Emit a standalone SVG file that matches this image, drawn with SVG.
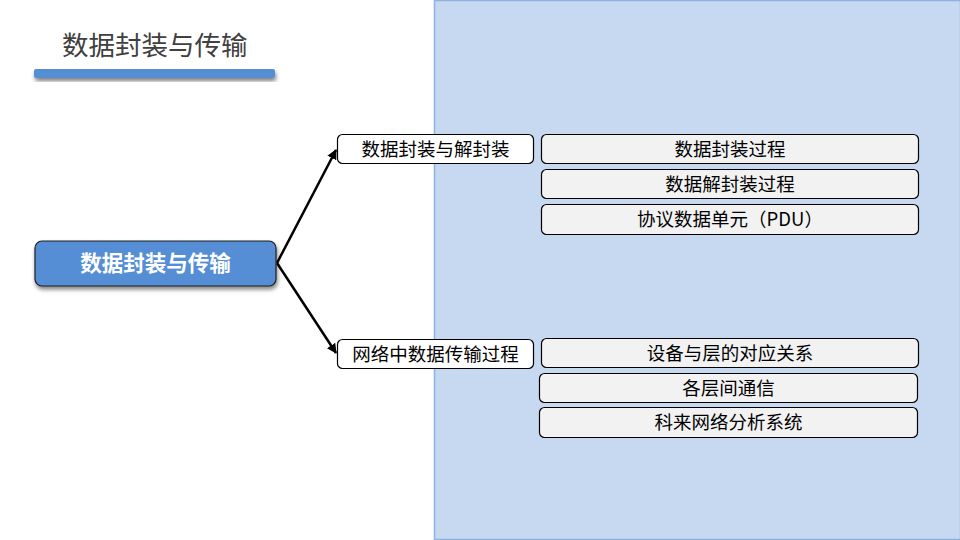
<svg xmlns="http://www.w3.org/2000/svg" width="960" height="540" viewBox="0 0 960 540">
<defs>
<style>
.t{font-family:"Noto Sans CJK SC","Liberation Sans",sans-serif;}
.sub{fill:#fff;stroke:#000;stroke-width:1.2;}
.leaf{fill:#f2f2f2;stroke:#000;stroke-width:1.2;}
.lt{font-size:18.5px;fill:#000;text-anchor:middle;}
.conn{stroke:#000;stroke-width:2.5;fill:none;marker-end:url(#ah);}
</style>
<marker id="ah" viewBox="0 0 10 10" refX="9" refY="5" markerWidth="4" markerHeight="4" orient="auto" markerUnits="strokeWidth">
<path d="M0,0 L10,5 L0,10 z" fill="#000"/>
</marker>
<filter id="sh" x="-10%" y="-20%" width="130%" height="160%">
<feGaussianBlur in="SourceAlpha" stdDeviation="2"/>
<feOffset dx="1" dy="3" result="b"/>
<feComponentTransfer><feFuncA type="linear" slope="0.5"/></feComponentTransfer>
<feMerge><feMergeNode/><feMergeNode in="SourceGraphic"/></feMerge>
</filter>
</defs>
<rect width="960" height="540" fill="#fff"/>
<rect id="panel" x="434.5" y="0.5" width="526" height="539" fill="#c6d9f1" stroke="#8db3e2" stroke-width="1.5"/>
<g id="title">
<text class="t" x="62" y="55" font-size="26.5" fill="#404040">数据封装与传输</text>
<rect x="34" y="69" width="241" height="9" rx="2" fill="#558ed5" filter="url(#sh)"/>
</g>
<g id="connectors">
<path class="conn" d="M277,263 L336,150"/>
<path class="conn" d="M277,263 L336,353"/>
</g>
<g id="root">
<rect x="35" y="241" width="241" height="45" rx="7" fill="#558ed5" stroke="#1f1f1f" stroke-width="1.2" filter="url(#sh)"/>
<text class="t" x="155.5" y="270.5" font-size="21.5" font-weight="bold" fill="#fff" text-anchor="middle">数据封装与传输</text>
</g>
<g id="n1">
<rect class="sub" x="337.5" y="134.5" width="196" height="29" rx="5"/>
<text class="t lt" x="435.5" y="155.5">数据封装与解封装</text>
</g>
<g id="n2">
<rect class="sub" x="337.5" y="339.5" width="196" height="29" rx="5"/>
<text class="t lt" x="435.5" y="360.5">网络中数据传输过程</text>
</g>
<g id="l1">
<rect class="leaf" x="541.5" y="134.5" width="377" height="29" rx="5"/>
<text class="t lt" x="730" y="155.5">数据封装过程</text>
</g>
<g id="l2">
<rect class="leaf" x="541.5" y="169.5" width="377" height="29" rx="5"/>
<text class="t lt" x="730" y="190.5">数据解封装过程</text>
</g>
<g id="l3">
<rect class="leaf" x="541.5" y="204.5" width="377" height="30" rx="5"/>
<text class="t lt" x="730" y="225.5">协议数据单元（PDU）</text>
</g>
<g id="l4">
<rect class="leaf" x="541.5" y="338.5" width="377" height="29" rx="5"/>
<text class="t lt" x="730" y="359.5">设备与层的对应关系</text>
</g>
<g id="l5">
<rect class="leaf" x="539.5" y="373.5" width="378" height="29" rx="5"/>
<text class="t lt" x="728.5" y="394.5">各层间通信</text>
</g>
<g id="l6">
<rect class="leaf" x="539.5" y="407.5" width="378" height="30" rx="5"/>
<text class="t lt" x="728.5" y="428.5">科来网络分析系统</text>
</g>
</svg>
